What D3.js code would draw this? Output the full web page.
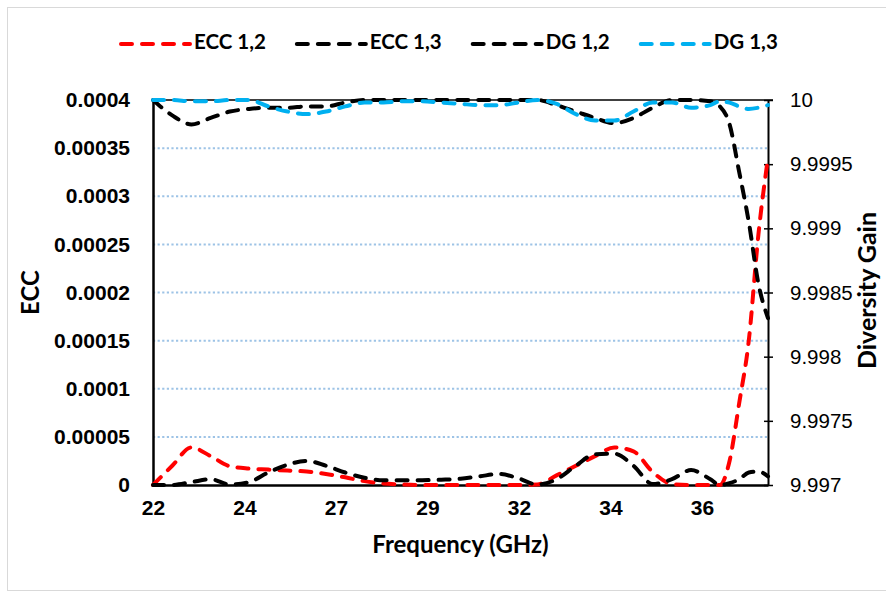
<!DOCTYPE html>
<html>
<head>
<meta charset="utf-8">
<script src="https://cdn.jsdelivr.net/npm/d3@7"></script>
<style>
  body { margin: 0; background: #fff; }
  svg { font-family: Lato, "Open Sans", sans-serif; }
</style>
</head>
<body>
<div id="chart"></div>
<script>
//frequency samples (GHz)
const freq = [22, 22.5, 23, 23.5, 24, 24.5, 25, 25.5, 26, 26.5, 27, 27.5, 28, 28.5, 29, 29.5,
  30, 30.5, 31, 31.5, 32, 32.5, 33, 33.5, 34, 34.5, 35, 35.5, 36, 36.5, 36.75, 37, 37.25,
  37.5, 37.75, 38];

//ECC values (left axis)
const ecc12 = [0, 2.0e-5, 3.9e-5, 3.0e-5, 1.95e-5, 1.7e-5, 1.6e-5, 1.5e-5, 1.4e-5, 1.15e-5,
  0.8e-5, 0.4e-5, 0.15e-5, 0.05e-5, 0, 0, 0, 0, 0, 0, 0.05e-5, 1.0e-5, 2.0e-5, 3.0e-5,
  3.9e-5, 3.5e-5, 1.35e-5, 0.1e-5, 0, 0, 0, 2.5e-5, 8.5e-5, 15.0e-5, 26.0e-5, 34.0e-5];
const ecc13 = [0, 0, 0.3e-5, 0.6e-5, 0.05e-5, 0.3e-5, 1.3e-5, 2.1e-5, 2.5e-5, 2.0e-5,
  1.3e-5, 0.75e-5, 0.5e-5, 0.5e-5, 0.5e-5, 0.55e-5, 0.65e-5, 0.9e-5, 1.15e-5, 0.7e-5,
  0.05e-5, 0.6e-5, 2.0e-5, 3.2e-5, 3.25e-5, 2.0e-5, 0.1e-5, 0.6e-5, 1.55e-5, 0.6e-5, 0,
  0.2e-5, 0.6e-5, 1.3e-5, 1.4e-5, 0.9e-5];

//diversity gain values (right axis)
const dg12 = [10, 9.99988, 9.99981, 9.99986, 9.99991, 9.99993, 9.99994, 9.99994, 9.99995,
  9.99995, 9.99998, 10, 10, 10, 10, 10, 10, 10, 10, 10, 10, 9.99996, 9.99991, 9.99986,
  9.99982, 9.99986, 9.99994, 10, 10, 9.99999, 9.99995, 9.99981, 9.99944, 9.99905, 9.99857,
  9.9983];
const dg13 = [10, 10, 9.99999, 9.99999, 10, 10, 9.99995, 9.99991, 9.99989, 9.99991,
  9.99995, 9.99998, 9.99998, 9.99999, 9.99999, 9.99998, 9.99997, 9.99996, 9.99996, 9.99998,
  10, 9.99997, 9.99989, 9.99984, 9.99984, 9.99991, 9.99998, 9.99998, 9.99994, 9.99996,
  9.99999, 9.99998, 9.99995, 9.99993, 9.99994, 9.99996];

//tick labels
const eccTicks = [0, 0.00005, 0.0001, 0.00015, 0.0002, 0.00025, 0.0003, 0.00035, 0.0004];
const dgTicks = [9.997, 9.9975, 9.998, 9.9985, 9.999, 9.9995, 10];
const xTickFreqs = [22, 24.38, 26.76, 29.14, 31.52, 33.9, 36.28];

//series
const series = [
  { name: "ECC 1,2", values: ecc12, axis: "left", color: "#ff0000" },
  { name: "ECC 1,3", values: ecc13, axis: "left", color: "#000000" },
  { name: "DG 1,2", values: dg12, axis: "right", color: "#000000" },
  { name: "DG 1,3", values: dg13, axis: "right", color: "#00b0f0" },
];

//size
const width = 886;
const height = 596;
const margin = { top: 100, right: 118, bottom: 111, left: 153 };

const x = d3.scaleLinear().domain([22, 38]).range([margin.left, width - margin.right]);
const yLeft = d3.scaleLinear().domain([0, 0.0004]).range([height - margin.bottom, margin.top]);
const yRight = d3.scaleLinear().domain([9.997, 10]).range([height - margin.bottom, margin.top]);

const svg = d3.select("#chart").append("svg").attr("width", width).attr("height", height);

//chart frame
svg.append("rect")
  .attr("x", 7.5).attr("y", 7.5)
  .attr("width", width).attr("height", 583)
  .attr("fill", "none").attr("stroke", "#d9d9d9");

const x0 = x.range()[0], x1 = x.range()[1];
const yBottom = yLeft.range()[0], yTop = yLeft.range()[1];

//gridlines
svg.append("g")
  .selectAll("line")
  .data(eccTicks.slice(1, -1))
  .join("line")
  .attr("x1", x0).attr("x2", x1)
  .attr("y1", (d) => yLeft(d)).attr("y2", (d) => yLeft(d))
  .attr("stroke", "#9dc3e6")
  .attr("stroke-width", 2)
  .attr("stroke-dasharray", "2.2 2.4");

//top line
svg.append("line")
  .attr("x1", x0).attr("x2", x1 + 5)
  .attr("y1", yTop).attr("y2", yTop)
  .attr("stroke", "#000").attr("stroke-width", 1.5);

//left axis
svg.append("g")
  .attr("transform", `translate(${x0},0)`)
  .call(d3.axisLeft(yLeft).tickValues(eccTicks).tickSize(0).tickPadding(23)
    .tickFormat((d) => String(+d.toFixed(5))))
  .call((g) => {
    g.select(".domain").attr("stroke-width", 2.5);
    g.selectAll("text").attr("font-size", 21).attr("font-weight", "bold").attr("fill", "#000");
  });

//right axis
svg.append("g")
  .attr("transform", `translate(${x1},0)`)
  .call(d3.axisRight(yRight).tickValues(dgTicks).tickSize(0).tickPadding(22)
    .tickFormat((d) => String(+d.toFixed(4))))
  .call((g) => {
    g.select(".domain").attr("stroke-width", 2);
    g.selectAll(".tick line").attr("x1", -4).attr("x2", 5).attr("stroke-width", 1.5);
    g.selectAll("text").attr("font-size", 20.5).attr("fill", "#000");
  });

//bottom axis
svg.append("g")
  .attr("transform", `translate(0,${yBottom})`)
  .call(d3.axisBottom(x).tickValues(xTickFreqs).tickSize(0).tickPadding(15)
    .tickFormat((d) => Math.round(d)))
  .call((g) => {
    g.select(".domain").attr("stroke-width", 2.5);
    g.selectAll("text").attr("font-size", 21).attr("font-weight", "bold").attr("fill", "#000");
  });

//axis titles
svg.append("text")
  .attr("transform", `translate(33,${(yTop + yBottom) / 2}) rotate(-90)`)
  .attr("text-anchor", "middle").attr("dominant-baseline", "middle")
  .attr("font-size", 24).attr("font-weight", "bold")
  .text("ECC");

svg.append("text")
  .attr("transform", `translate(870,${(yTop + yBottom) / 2 - 2}) rotate(-90)`)
  .attr("text-anchor", "middle").attr("dominant-baseline", "middle")
  .attr("font-size", 25).attr("font-weight", "bold")
  .text("Diversity Gain");

svg.append("text")
  .attr("x", (x0 + x1) / 2).attr("y", 547)
  .attr("text-anchor", "middle").attr("dominant-baseline", "middle")
  .attr("font-size", 24).attr("font-weight", "bold")
  .text("Frequency (GHz)");

//draw lines
const dash = "11 10";
series.forEach((s) => {
  const y = s.axis == "left" ? yLeft : yRight;
  const line = d3.line()
    .x((d, i) => x(freq[i]))
    .y((d) => y(d))
    .curve(d3.curveMonotoneX);
  svg.append("path")
    .datum(s.values)
    .attr("d", line)
    .attr("fill", "none")
    .attr("stroke", s.color)
    .attr("stroke-width", 4)
    .attr("stroke-linecap", "round")
    .attr("stroke-dasharray", dash);
});

//legend
const legend = svg.append("g").attr("transform", "translate(121,44)");
let lx = 0;
series.forEach((s) => {
  legend.append("line")
    .attr("x1", lx).attr("x2", lx + 69)
    .attr("y1", 0).attr("y2", 0)
    .attr("stroke", s.color)
    .attr("stroke-width", 4)
    .attr("stroke-linecap", "round")
    .attr("stroke-dasharray", dash);
  const t = legend.append("text")
    .attr("x", lx + 73).attr("y", 0)
    .attr("dominant-baseline", "middle")
    .attr("font-size", 20.5).attr("font-weight", "bold")
    .text(s.name);
  lx += 73 + t.node().getComputedTextLength() + 31;
});
</script>
</body>
</html>
